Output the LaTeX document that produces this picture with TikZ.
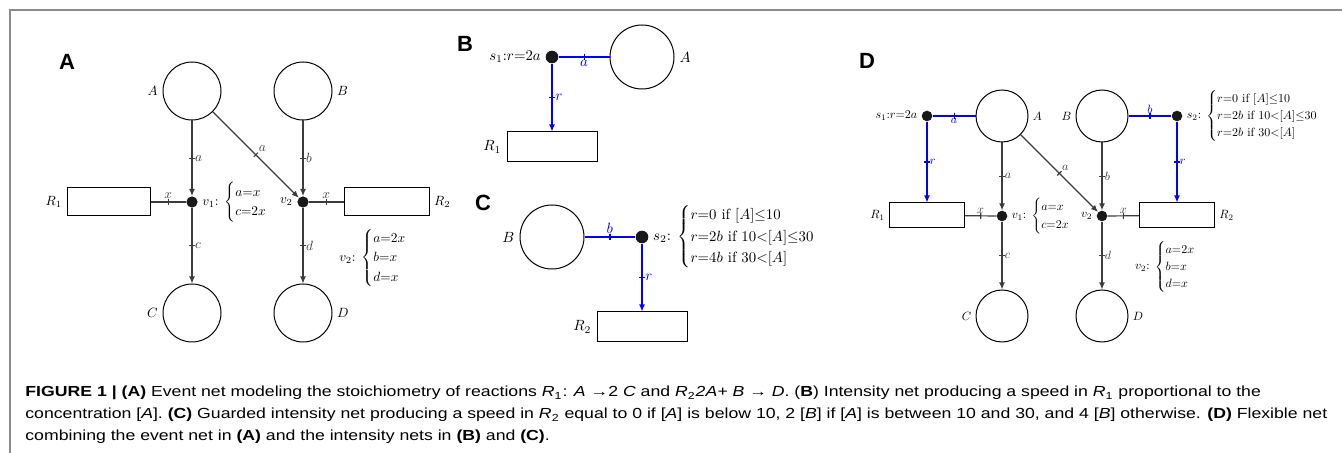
\documentclass[tikz,border=0pt]{standalone}
\usepackage{amsmath}
\usepackage{fontspec}
\usepackage{tikz}
\usetikzlibrary{arrows.meta, positioning}
\newfontfamily\capfont[FakeStretch=1.21]{Liberation Sans}
\newfontfamily\panelfont{Liberation Sans}
\definecolor{netline}{HTML}{3C3C3C}
\definecolor{figrulecol}{HTML}{8A8A8A}
\tikzset{
  txt/.style       = {scale=0.67},
  every label/.append style = {txt},
  place/.style     = {circle, draw=black, line width=0.5pt, inner sep=0pt, minimum size=29pt},
  trans/.style     = {rectangle, draw=black, line width=0.5pt, inner sep=0pt},
  dot/.style       = {circle, fill=black!90, inner sep=0pt, minimum size=5.6pt},
  flowline/.style  = {color=netline, line width=0.6pt},
  flowarr/.style   = {flowline, -{Latex[length=3.5pt, width=3pt]}},
  spdline/.style   = {color=blue, line width=0.6pt},
  spdarr/.style    = {spdline, -{Latex[length=3.5pt, width=3pt]}},
  arcbar/.style    = {draw, sloped, rectangle, minimum width=0pt, minimum height=3pt, inner sep=0pt, outer sep=0pt},
  wt/.style        = {txt, inner sep=2pt},
  eqn/.style       = {txt, inner sep=1.5pt, align=left},
  panel/.style     = {font=\panelfont\bfseries\fontsize{11}{13}\selectfont, inner sep=0pt},
  figrule/.style   = {draw=figrulecol, line width=0.8pt},
  caption/.style   = {font=\capfont\fontsize{7.3}{11}\selectfont, align=left, inner sep=0pt},
}

\begin{document}
\begin{tikzpicture}[x=0.5pt, y=-0.5pt]
  \useasboundingbox (0,0) rectangle (1342,453);
  \draw[figrule] (1342,10) -- (10,10) -- (10,453);

  \begin{scope}[txt/.style={scale=0.67}]
    \node[panel] (labA) at (67,62) {A};
    \node[place, label=left:$A$] (evA) at (192,91) {};
    \node[place, label=right:$B$] (evB) at (303,91) {};
    \node[dot] (evV1) at (192,202) {};
    \node[dot] (evV2) at (303,202) {};
    \node[place, label=left:$C$] (evC) at (192,313) {};
    \node[place, label=right:$D$] (evD) at (303,313) {};
    \node[trans, minimum width=41.5pt, minimum height=14pt, label=left:$R_1$] (evR1) at (108.5,202) {};
    \node[trans, minimum width=42.5pt, minimum height=14pt, label=right:$R_2$] (evR2) at (386.5,202) {};
    \node[eqn, right=1pt of evV1] (evV1eq) {$v_1$: $\begin{cases} a{=}x\\ c{=}2x \end{cases}$};
    \node[eqn, left=1pt of evV2] (evV2lab) {$v_2$};
    \node[eqn, anchor=west] (evV2eq) at (337,258) {$v_2$: $\begin{cases} a{=}2x\\ b{=}x\\ d{=}x \end{cases}$};

    \draw[flowarr] (evA) -- node[arcbar]{} node[wt, right]{$a$} (evV1);
    \draw[flowarr] (evV1) -- node[arcbar]{} node[wt, right]{$c$} (evC);
    \draw[flowline] (evR1) -- node[arcbar]{} node[wt, above]{$x$} (evV1);
    \draw[flowarr] (evB) -- node[arcbar]{} node[wt, right]{$b$} (evV2);
    \draw[flowarr] (evA) -- node[arcbar]{} node[wt, above right]{$a$} (evV2);
    \draw[flowline] (evR2) -- node[arcbar]{} node[wt, above]{$x$} (evV2);
    \draw[flowarr] (evV2) -- node[arcbar]{} node[wt, right]{$d$} (evD);
  \end{scope}

  \begin{scope}[txt/.style={scale=0.74}]
    \node[panel] (labB) at (465,44) {B};
    \node[dot, minimum size=6.3pt] (inS1) at (552,57) {};
    \node[place, minimum size=32pt, label=right:$A$] (inA) at (642,57) {};
    \node[trans, minimum width=45pt, minimum height=15pt, label=left:$R_1$] (inR1) at (552,147) {};
    \node[eqn, left=1pt of inS1] (inS1lab) {$s_1$:$r{=}2a$};

    \draw[spdline] (inS1) -- node[arcbar]{} node[wt, below]{$a$} (inA);
    \draw[spdarr] (inS1) -- node[arcbar]{} node[wt, right]{$r$} (inR1);

    \node[panel] (labC) at (483,203) {C};
    \node[place, minimum size=32pt, label=left:$B$] (grB) at (552,237) {};
    \node[dot, minimum size=6.3pt] (grS2) at (642,237) {};
    \node[trans, minimum width=45pt, minimum height=15pt, label=left:$R_2$] (grR2) at (642,327) {};
    \node[eqn, right=1pt of grS2] (grS2eq) {$s_2$: $\begin{cases} r{=}0 \text{ if } [A]{\leq}10\\ r{=}2b \text{ if } 10{<}[A]{\leq}30\\ r{=}4b \text{ if } 30{<}[A] \end{cases}$};

    \draw[spdline] (grB) -- node[arcbar]{} node[wt, above]{$b$} (grS2);
    \draw[spdarr] (grS2) -- node[arcbar]{} node[wt, right]{$r$} (grR2);
  \end{scope}

  \begin{scope}[txt/.style={scale=0.6}]
    \node[panel] (labD) at (867,61) {D};
    \node[place, minimum size=26pt, label=right:$A$] (flA) at (1002,116) {};
    \node[place, minimum size=26pt, label=left:$B$] (flB) at (1102,116) {};
    \node[dot, minimum size=5.3pt] (flS1) at (927,116) {};
    \node[dot, minimum size=5.3pt] (flS2) at (1177,116) {};
    \node[dot, minimum size=5.3pt] (flV1) at (1002,216) {};
    \node[dot, minimum size=5.3pt] (flV2) at (1102,216) {};
    \node[place, minimum size=26pt, label=left:$C$] (flC) at (1002,316) {};
    \node[place, minimum size=26pt, label=right:$D$] (flD) at (1102,316) {};
    \node[trans, minimum width=37.5pt, minimum height=12.5pt, label=left:$R_1$] (flR1) at (927,215.5) {};
    \node[trans, minimum width=37.5pt, minimum height=12.5pt, label=right:$R_2$] (flR2) at (1177,215.5) {};
    \node[eqn, left=1pt of flS1] (flS1lab) {$s_1$:$r{=}2a$};
    \node[eqn, right=1pt of flS2] (flS2eq) {$s_2$: $\begin{cases} r{=}0 \text{ if } [A]{\leq}10\\ r{=}2b \text{ if } 10{<}[A]{\leq}30\\ r{=}2b \text{ if } 30{<}[A] \end{cases}$};
    \node[eqn, right=1pt of flV1] (flV1eq) {$v_1$: $\begin{cases} a{=}x\\ c{=}2x \end{cases}$};
    \node[eqn, left=1pt of flV2] (flV2lab) {$v_2$};
    \node[eqn, anchor=west] (flV2eq) at (1133,267) {$v_2$: $\begin{cases} a{=}2x\\ b{=}x\\ d{=}x \end{cases}$};

    \draw[spdline] (flS1) -- node[arcbar]{} node[wt, below]{$a$} (flA);
    \draw[spdarr] (flS1) -- node[arcbar]{} node[wt, right]{$r$} (flR1);
    \draw[spdline] (flB) -- node[arcbar]{} node[wt, above]{$b$} (flS2);
    \draw[spdarr] (flS2) -- node[arcbar]{} node[wt, right]{$r$} (flR2);
    \draw[flowarr] (flA) -- node[arcbar]{} node[wt, right]{$a$} (flV1);
    \draw[flowarr] (flV1) -- node[arcbar]{} node[wt, right]{$c$} (flC);
    \draw[flowline] (flR1) -- node[arcbar]{} node[wt, above]{$x$} (flV1);
    \draw[flowarr] (flB) -- node[arcbar]{} node[wt, right]{$b$} (flV2);
    \draw[flowarr] (flA) -- node[arcbar]{} node[wt, above right]{$a$} (flV2);
    \draw[flowline] (flR2) -- node[arcbar]{} node[wt, above]{$x$} (flV2);
    \draw[flowarr] (flV2) -- node[arcbar]{} node[wt, right]{$d$} (flD);
  \end{scope}

  \node[caption, anchor=north west] (capt) at (25,386) {{\bfseries FIGURE 1 | (A)} Event net modeling the stoichiometry of reactions {\itshape R}\textsubscript{1}: {\itshape A} →2 {\itshape C} and {\itshape R}\textsubscript{2}{\itshape 2A+ B} → {\itshape D}. ({\bfseries B}) Intensity net producing a speed in {\itshape R}\textsubscript{1} proportional to the\\
    concentration [{\itshape A}]. {\bfseries (C)} Guarded intensity net producing a speed in {\itshape R}\textsubscript{2} equal to 0 if [{\itshape A}] is below 10, 2 [{\itshape B}] if [{\itshape A}] is between 10 and 30, and 4 [{\itshape B}] otherwise. {\bfseries (D)} Flexible net\\
    combining the event net in {\bfseries (A)} and the intensity nets in {\bfseries (B)} and {\bfseries (C)}.};
\end{tikzpicture}
\end{document}
